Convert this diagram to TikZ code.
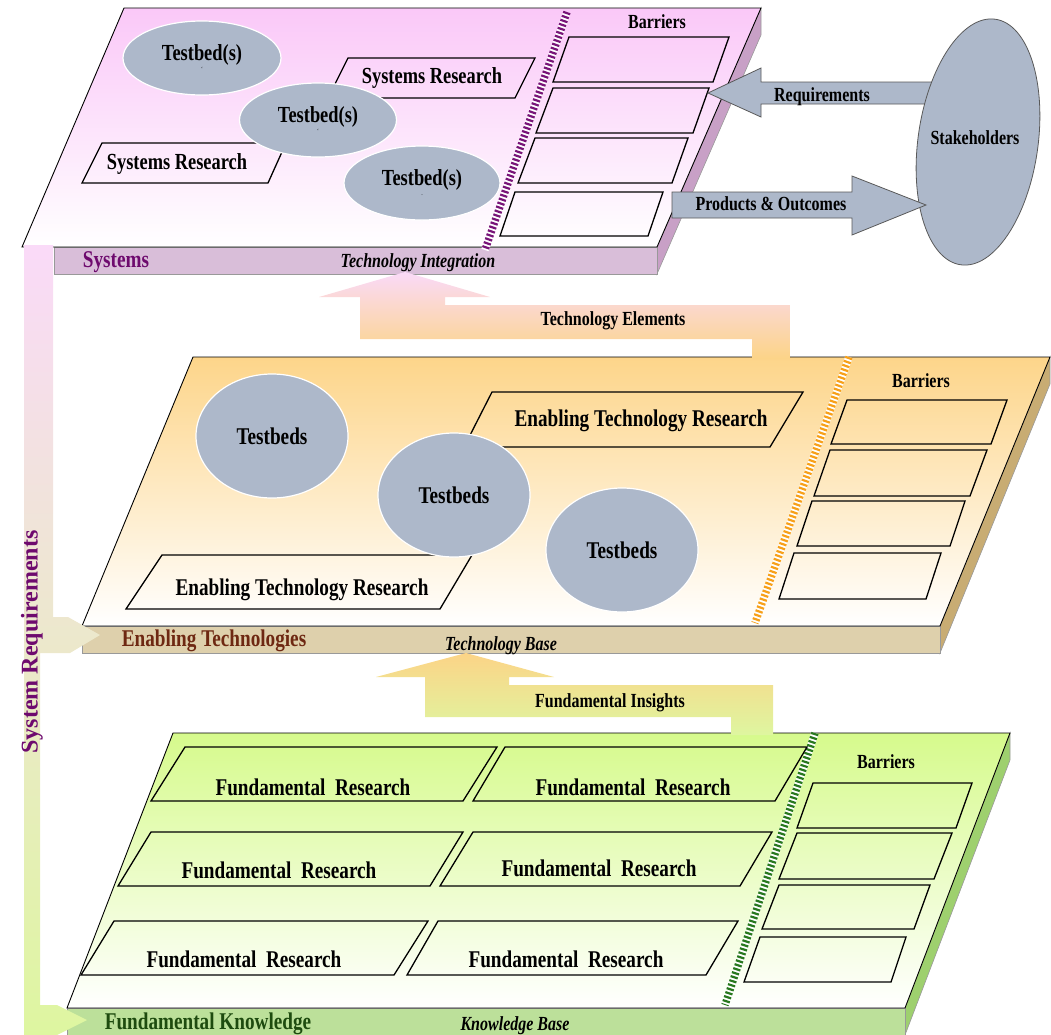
\documentclass[tikz,border=0pt]{standalone}
\usepackage{fontspec}
\setmainfont{Liberation Serif}[FakeStretch=0.8]
\newfontfamily\upfont{Liberation Serif}
\usetikzlibrary{shapes.geometric}

\definecolor{tbgray}{RGB}{173,184,202}
\definecolor{syspink}{RGB}{250,200,248}
\definecolor{sysband}{RGB}{217,190,217}
\definecolor{sysside}{RGB}{200,160,198}
\definecolor{sysname}{RGB}{110,10,110}
\definecolor{syshatch}{RGB}{120,20,120}
\definecolor{enorange}{RGB}{253,213,138}
\definecolor{enband}{RGB}{222,208,172}
\definecolor{enside}{RGB}{200,172,115}
\definecolor{enname}{RGB}{110,40,18}
\definecolor{enhatch}{RGB}{247,160,25}
\definecolor{fugreen}{RGB}{214,250,140}
\definecolor{fuband}{RGB}{188,224,154}
\definecolor{fuside}{RGB}{158,208,110}
\definecolor{funame}{RGB}{30,75,15}
\definecolor{fuhatch}{RGB}{40,120,30}
\definecolor{arrpink}{RGB}{250,218,248}
\definecolor{arrorange}{RGB}{252,212,135}
\definecolor{arrgreen}{RGB}{222,246,160}

\begin{document}
\begin{tikzpicture}[x=1pt, y=-1pt,
    face/.style={draw=black, line width=0.9pt},
    band/.style={draw=black!40, line width=0.6pt},
    boxframe/.style={draw=black, line width=1.3pt},
    testbed/.style={ellipse, fill=tbgray, draw=white, line width=1.2pt, inner sep=0pt},
    hatchbase/.style={white, line width=7.5pt},
    hatchline/.style={line width=7.5pt, dash pattern=on 2.2pt off 2pt},
    blockarrow/.style={fill=tbgray, draw=black!65, line width=0.8pt},
    bigtext/.style={font=\fontsize{24}{26}\selectfont\bfseries},
    toptext/.style={font=\fontsize{23}{25}\selectfont\bfseries},
    labeltext/.style={font=\fontsize{20}{22}\selectfont\bfseries},
    basetext/.style={font=\fontsize{20}{22}\selectfont\bfseries\itshape}]

    \useasboundingbox (0,0) rectangle (1051,1034);

    % systems plane
    \filldraw[band, fill=sysside] (761,8) -- (761,35) -- (657,274) -- (657,247) -- cycle;
    \filldraw[band, fill=sysband] (54,247) rectangle (657,274);
    \shadedraw[face, top color=syspink, bottom color=white]
        (124,8) -- (761,8) -- (657,247) -- (22,247) -- cycle;
    \draw[hatchbase] (567,12) -- (485,250);
    \draw[hatchline, syshatch] (567,12) -- (485,250);
    \draw[boxframe] (348,58) -- (535,58) -- (515,98) -- (328,98) -- cycle;
    \draw[boxframe] (102,143) -- (286,143) -- (268,183) -- (82,183) -- cycle;
    \draw[boxframe] (569,37) -- (729,37) -- (713,82) -- (553,82) -- cycle;
    \draw[boxframe] (553,88) -- (709,88) -- (693,133) -- (536,133) -- cycle;
    \draw[boxframe] (535,138) -- (688,138) -- (672,183) -- (518,183) -- cycle;
    \draw[boxframe] (515,192) -- (663,192) -- (648,236) -- (500,236) -- cycle;
    \node[testbed, minimum width=158pt, minimum height=74pt, align=center, toptext]
        (tbA) at (202,58) {Testbed(s)\\[-15pt]{\tiny `}};
    \node[testbed, minimum width=157pt, minimum height=74pt, align=center, toptext]
        (tbB) at (318,120) {Testbed(s)\\[-15pt]{\tiny `}};
    \node[testbed, minimum width=156pt, minimum height=74pt, align=center, toptext]
        (tbC) at (422,183) {Testbed(s)\\[-15pt]{\tiny .}};

    % enabling technologies plane
    \filldraw[band, fill=enside] (1050,357) -- (1050,384) -- (940,653) -- (940,626) -- cycle;
    \filldraw[band, fill=enband] (82,626) rectangle (940,653);
    \shadedraw[face, top color=enorange, bottom color=white]
        (193,357) -- (1050,357) -- (940,626) -- (82,626) -- cycle;
    \draw[hatchbase] (849,357) -- (755,623);
    \draw[hatchline, enhatch] (849,357) -- (755,623);
    \draw[boxframe] (492,392) -- (803,392) -- (770,447) -- (464,447) -- cycle;
    \draw[boxframe] (162,555) -- (472,555) -- (440,609) -- (126,609) -- cycle;
    \draw[boxframe] (847,400) -- (1007,400) -- (991,444) -- (831,444) -- cycle;
    \draw[boxframe] (830,450) -- (987,450) -- (970,496) -- (814,496) -- cycle;
    \draw[boxframe] (812,501) -- (965,501) -- (950,546) -- (797,546) -- cycle;
    \draw[boxframe] (794,553) -- (941,553) -- (926,599) -- (779,599) -- cycle;
    \node[testbed, minimum width=152pt, minimum height=124pt, bigtext]
        (tbD) at (272,436) {Testbeds};
    \node[testbed, minimum width=152pt, minimum height=124pt, bigtext]
        (tbE) at (454,495) {Testbeds};
    \node[testbed, minimum width=152pt, minimum height=124pt, bigtext]
        (tbF) at (622,550) {Testbeds};

    % fundamental knowledge plane
    \filldraw[band, fill=fuside] (1010,733) -- (1010,760) -- (905,1035) -- (905,1008) -- cycle;
    \filldraw[band, fill=fuband] (67,1008) rectangle (905,1036);
    \shadedraw[face, top color=fugreen, bottom color=white]
        (173,733) -- (1010,733) -- (905,1008) -- (67,1008) -- cycle;
    \draw[hatchbase] (815,733) -- (725,1005);
    \draw[hatchline, fuhatch] (815,733) -- (725,1005);
    \draw[boxframe] (185,747) -- (497,747) -- (463,801) -- (151,801) -- cycle;
    \draw[boxframe] (505,747) -- (807,747) -- (775,801) -- (473,801) -- cycle;
    \draw[boxframe] (151,832) -- (463,832) -- (430,886) -- (118,886) -- cycle;
    \draw[boxframe] (473,832) -- (772,832) -- (740,886) -- (440,886) -- cycle;
    \draw[boxframe] (114,921) -- (428,921) -- (394,975) -- (81,975) -- cycle;
    \draw[boxframe] (438,921) -- (738,921) -- (706,975) -- (407,975) -- cycle;
    \draw[boxframe] (813,783) -- (972,783) -- (956,828) -- (797,828) -- cycle;
    \draw[boxframe] (797,833) -- (952,833) -- (934,879) -- (779,879) -- cycle;
    \draw[boxframe] (779,885) -- (930,885) -- (914,929) -- (762,929) -- cycle;
    \draw[boxframe] (760,937) -- (906,937) -- (891,982) -- (744,982) -- cycle;

    % arrows between the planes
    \shade[top color=arrpink, bottom color=arrorange]
        (405,272) -- (490,297) -- (445,297) -- (445,305) -- (790,305) -- (790,359)
        -- (752,359) -- (752,339) -- (360,339) -- (360,297) -- (319,297) -- cycle;
    \shade[top color=arrorange, bottom color=arrgreen]
        (466,653) -- (554,677) -- (509,677) -- (509,685) -- (773,685) -- (773,735)
        -- (731,735) -- (731,717) -- (425,717) -- (425,677) -- (376,677) -- cycle;
    \shade[top color=arrpink, middle color=arrorange, bottom color=arrgreen]
        (24,245) -- (53,245) -- (53,617) -- (68,617) -- (100,635) -- (70,653)
        -- (40,653) -- (40,1005) -- (57,1005) -- (87,1020) -- (57,1035) -- (24,1035) -- cycle;

    % stakeholders
    \draw[blockarrow] (708,93) -- (761,68) -- (761,82) -- (935,82) -- (935,104)
        -- (761,104) -- (761,117) -- cycle;
    \draw[blockarrow, rotate around={-8:(978,142)}] (978,142) ellipse [x radius=60pt, y radius=124pt];
    \draw[blockarrow] (672,192) -- (852,192) -- (852,176) -- (926,205) -- (852,235)
        -- (852,218) -- (672,218) -- cycle;

    % labels
    \node[toptext] (srA) at (432,78) {Systems Research};
    \node[toptext] (srB) at (177,164) {Systems Research};
    \node[labeltext] (barA) at (657,22) {Barriers};
    \node[bigtext, text=sysname] (sys) at (116,262) {Systems};
    \node[basetext] (integ) at (418,263) {Technology Integration};

    \node[bigtext] (etrA) at (641,421) {Enabling Technology Research};
    \node[bigtext] (etrB) at (302,590) {Enabling Technology Research};
    \node[labeltext] (barB) at (921,381) {Barriers};
    \node[bigtext, text=enname] (enab) at (214,641) {Enabling Technologies};
    \node[basetext] (tbase) at (501,646) {Technology Base};

    \node[bigtext] (frA) at (313,787) {Fundamental\ \ Research};
    \node[bigtext] (frB) at (633,787) {Fundamental\ \ Research};
    \node[bigtext] (frC) at (279,870) {Fundamental\ \ Research};
    \node[bigtext] (frD) at (599,868) {Fundamental\ \ Research};
    \node[bigtext] (frE) at (244,959) {Fundamental\ \ Research};
    \node[bigtext] (frF) at (566,959) {Fundamental\ \ Research};
    \node[labeltext] (barC) at (886,762) {Barriers};
    \node[bigtext, text=funame] (fund) at (208,1024) {Fundamental Knowledge};
    \node[basetext] (kbase) at (515,1026) {Knowledge Base};

    \node[labeltext] (telem) at (613,321) {Technology Elements};
    \node[labeltext] (finsi) at (610,703) {Fundamental Insights};
    \node[labeltext] (req) at (822,97) {Requirements};
    \node[labeltext] (prod) at (771,204) {Products \& Outcomes};
    \node[labeltext] (stake) at (975,138) {Stakeholders};
    \node[rotate=90, text=sysname, font=\upfont\fontsize{24}{26}\selectfont\bfseries]
        (sysreq) at (32,642) {System Requirements};
\end{tikzpicture}
\end{document}
